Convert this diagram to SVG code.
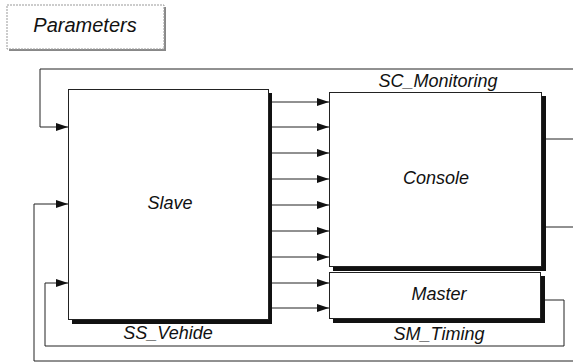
<svg xmlns="http://www.w3.org/2000/svg" width="573" height="363" viewBox="0 0 573 363">
<style>
.t{font-family:"Liberation Sans",Arial,sans-serif;font-style:italic;font-size:18px;fill:#111;text-anchor:middle}
.box{fill:#fff;stroke:#222;stroke-width:1}
.sh{fill:#111}
.c{fill:none;stroke:#222;stroke-width:1}
</style>
<defs>
<marker id="ah" viewBox="0 0 12 8" refX="12" refY="4" markerWidth="12" markerHeight="8" markerUnits="userSpaceOnUse" orient="auto">
<path d="M0,0 L12,4 L0,8 z" fill="#111"/>
</marker>
</defs>
<rect width="573" height="363" fill="#fff"/>
<g id="parameters">
<rect x="9" y="7" width="157" height="44" fill="#888"/>
<rect x="7" y="5" width="157" height="44" fill="#fff" stroke="#999" stroke-width="1" stroke-dasharray="2,1"/>
<text class="t" x="85" y="32" style="font-size:20px">Parameters</text>
</g>
<g id="connectors">
<polyline class="c" points="573,69 40,69 40,127 68,127" marker-end="url(#ah)"/>
<polyline class="c" points="573,361 34,361 34,204 68,204" marker-end="url(#ah)"/>
<polyline class="c" points="545,300 564,300 564,346 45,346 45,283 68,283" marker-end="url(#ah)"/>
<line class="c" x1="272" y1="102" x2="329" y2="102" marker-end="url(#ah)"/>
<line class="c" x1="272" y1="127" x2="329" y2="127" marker-end="url(#ah)"/>
<line class="c" x1="272" y1="153" x2="329" y2="153" marker-end="url(#ah)"/>
<line class="c" x1="272" y1="179" x2="329" y2="179" marker-end="url(#ah)"/>
<line class="c" x1="272" y1="205" x2="329" y2="205" marker-end="url(#ah)"/>
<line class="c" x1="272" y1="231" x2="329" y2="231" marker-end="url(#ah)"/>
<line class="c" x1="272" y1="257" x2="329" y2="257" marker-end="url(#ah)"/>
<line class="c" x1="272" y1="283" x2="329" y2="283" marker-end="url(#ah)"/>
<line class="c" x1="272" y1="308" x2="329" y2="308" marker-end="url(#ah)"/>
<line class="c" x1="545" y1="139" x2="573" y2="139"/>
<line class="c" x1="545" y1="227" x2="573" y2="227"/>
</g>
<g id="slave">
<rect class="sh" x="72" y="93" width="200" height="231"/>
<rect class="box" x="68.5" y="89.5" width="200" height="230"/>
<text class="t" x="170" y="209">Slave</text>
</g>
<g id="console">
<rect class="sh" x="333" y="96" width="213" height="175"/>
<rect class="box" x="329.5" y="92.5" width="212" height="174"/>
<text class="t" x="436" y="184">Console</text>
</g>
<g id="master">
<rect class="sh" x="333" y="276" width="212" height="47"/>
<rect class="box" x="329.5" y="272.5" width="211" height="46"/>
<text class="t" x="439" y="300">Master</text>
</g>
<g id="labels">
<text class="t" x="438" y="87">SC_Monitoring</text>
<text class="t" x="168" y="339">SS_Vehide</text>
<text class="t" x="439" y="340">SM_Timing</text>
</g>
</svg>
